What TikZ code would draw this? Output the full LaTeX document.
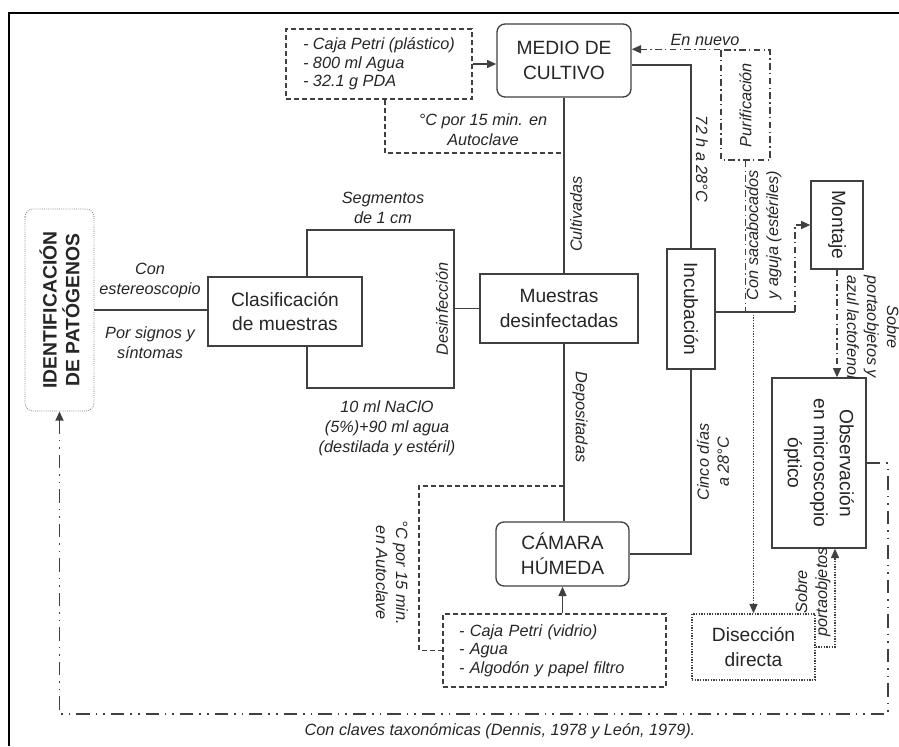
\documentclass[tikz,border=0pt]{standalone}
\usepackage{fontspec}
\setmainfont{Liberation Sans}
\usetikzlibrary{arrows.meta,positioning}

\begin{document}
\begin{tikzpicture}[x=0.75pt,y=-0.75pt,
  every node/.style={text=black!85},
  box/.style={draw=black!75,line width=1pt,fill=white,align=center,inner sep=0pt,font=\fontsize{14.4}{18.5}\selectfont},
  rbox/.style={box,rounded corners=6pt},
  lbl/.style={align=center,inner sep=0pt,font=\fontsize{12.2}{15}\selectfont\itshape},
  mat/.style={draw=black!75,line width=1pt,dash pattern=on 3.75pt off 2.25pt,align=left,inner ysep=0pt,font=\fontsize{12.2}{13.9}\selectfont\itshape},
  ln/.style={draw=black!75,line width=1pt},
  dsh/.style={ln,dash pattern=on 3.75pt off 2.25pt},
  dd/.style={ln,line width=1.1pt,dash pattern=on 5pt off 2.5pt on 1pt off 2.5pt},
  ddd/.style={ln,line width=1.3pt,dash pattern=on 10pt off 4.5pt on 1.2pt off 4.5pt on 1.2pt off 4.5pt},
  dt/.style={ln,line width=1.1pt,dash pattern=on 1pt off 1pt},
  arr/.style={-{Triangle[length=7pt,width=6pt]}}]
\useasboundingbox (0,0) rectangle (899,746);
\draw[line width=1.5pt] (9,746) -- (9,13) -- (899,13);

% boxes
\node[mat,minimum width=139.5pt,minimum height=52.5pt] (matmedio) at (379,64) {- Caja Petri (plástico)\\- 800 ml Agua\\- 32.1 g PDA};
\node[rbox,minimum width=100.5pt,minimum height=54.75pt] (medio) at (564,60.5) {MEDIO DE\\CULTIVO};
\node[rbox,draw=black!55,line width=.6pt,densely dotted,rotate=90,minimum width=151.5pt,minimum height=51.75pt,font=\fontsize{14.5}{17}\selectfont\bfseries] (ident) at (59.5,310) {IDENTIFICACIÓN\\DE PATÓGENOS};
\node[box,minimum width=115.5pt,minimum height=51.75pt] (clasif) at (285,311.5) {Clasificación\\de muestras};
\node[box,minimum width=118.5pt,minimum height=51.75pt] (muestras) at (559,308.5) {Muestras\\desinfectadas};
\node[rbox,minimum width=99.75pt,minimum height=48pt] (camara) at (562.5,554) {CÁMARA\\HÚMEDA};
\node[mat,text width=143.25pt,inner xsep=12pt,minimum height=54.75pt] (mat2) at (554.5,650.5) {- Caja Petri (vidrio)\\- Agua\\- Algodón y papel filtro};
\node[box,rotate=-90,minimum width=90pt,minimum height=36pt] (incub) at (691,309) {Incubación};
\node[box,dd,rotate=90,minimum width=82.5pt,minimum height=36.75pt,font=\fontsize{12.2}{15}\selectfont\itshape] (purif) at (745.5,105) {Purificación};
\node[box,rotate=-90,minimum width=66pt,minimum height=39pt] (montaje) at (837,225) {Montaje};
\node[box,rotate=-90,minimum width=127.5pt,minimum height=70.5pt,font=\fontsize{14.4}{19.5}\selectfont] (observ) at (819,463) {Observación\\en microscopio\\óptico};
\node[box,dt,minimum width=92.25pt,minimum height=49.5pt] (disecc) at (753.5,647) {Disección\\directa};

% connectors
\coordinate (autoc1) at (564,153);
\coordinate (autoc2) at (564,486);
\coordinate (dtop) at (454,230);
\coordinate (dbot) at (454,388);
\coordinate (mjoin) at (795,312);
\coordinate (ret) at (888,714);
\draw[ln,arr] (matmedio.east) -- (matmedio.east -| medio.west);
\draw[dsh] ([xshift=4.5pt]matmedio.south) |- (autoc1);
\draw[ln] (medio.south) -- (medio.south |- muestras.north);
\draw[ln] (ident.south) -- (ident.south -| clasif.west);
\draw[ln] ([xshift=16.5pt]clasif.north) |- (dtop) -- (dbot) -| ([xshift=16.5pt]clasif.south);
\draw[ln] (dtop |- muestras.west) -- (muestras.west);
\draw[ln] (muestras.south -| medio.south) -- (camara.north -| medio.south);
\draw[dsh] (autoc2) -- (419,486) |- (mat2.west);
\draw[ln,arr] (mat2.north -| camara.south) -- (camara.south);
\draw[ln] (camara.east) -| (incub.east);
\draw[ln] ([yshift=-3.4pt]medio.east) -| (incub.west);
\draw[dd,arr] (purif.north east) -- (purif.north east -| medio.east);
\draw[ln] (incub.north |- mjoin) -- (mjoin);
\draw[dd] (purif.west) -- (purif.west |- mjoin);
\draw[dd,arr] (mjoin) |- (montaje.south);
\draw[dt,arr] (disecc.north |- mjoin) -- (disecc.north);
\draw[dd,arr] (montaje.east) -- (montaje.east |- observ.west);
\draw[dt,arr] (disecc.east) -| ([xshift=12pt]observ.east);
\draw[ddd,arr] (observ.north) -| (ret) -| (ident.west);

% labels
\node[lbl] (lautoc1) at (483,130) {°C por 15 min. en\\Autoclave};
\node[lbl,rotate=90] (lcult) at (576,214) {Cultivadas};
\node[lbl] (lestereo) at (150,281) {Con\\estereoscopio};
\node[lbl] (lsignos) at (150,343) {Por signos y\\síntomas};
\node[lbl] (lsegm) at (383,208) {Segmentos\\de 1 cm};
\node[lbl,rotate=90] (ldesinf) at (442,309) {Desinfección};
\node[lbl] (lnaclo) at (387,428) {10 ml NaClO\\(5\%)+90 ml agua\\(destilada y estéril)};
\node[lbl,rotate=-90] (ldepos) at (580,417) {Depositadas};
\node[lbl,rotate=-90] (lautoc2) at (392,573) {°C por 15 min.\\en Autoclave};
\node[lbl,rotate=-90] (l72h) at (702,159) {72 h a 28°C};
\node[lbl,rotate=90] (lcinco) at (713,462) {Cinco días\\a 28°C};
\node[lbl] (lnuevo) at (705,40) {En nuevo};
\node[lbl,rotate=90] (lsacab) at (764,235) {Con sacabocados\\y aguja (estériles)};
\node[lbl,rotate=-90] (lazul) at (873,327) {Sobre\\portaobjetos y\\azul lactofenol};
\node[lbl,rotate=90] (lporta) at (813,592) {Sobre\\portaobjetos};
\node[lbl] (lclaves) at (500,731) {Con claves taxonómicas (Dennis, 1978 y León, 1979).};
\end{tikzpicture}
\end{document}
